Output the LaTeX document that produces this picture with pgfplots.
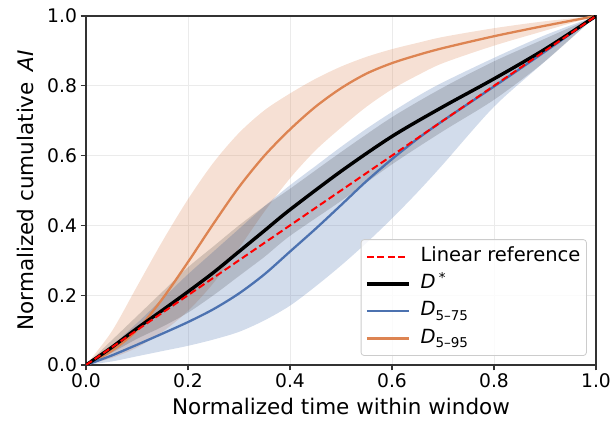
\documentclass[border=0pt]{standalone}
\usepackage{fontspec}
\setmainfont{DejaVu Sans}
\usepackage{pgfplots}
\usepackage{pgfplotstable}
\pgfplotsset{compat=1.18}
\usepgfplotslibrary{fillbetween}
\definecolor{cblue}{HTML}{4C72B0}
\definecolor{corange}{HTML}{DD8452}
\definecolor{gridc}{HTML}{EBEBEB}
\definecolor{spine}{HTML}{333333}
\definecolor{legc}{HTML}{CCCCCC}

\pgfplotstableread{
x c lo hi
0 0 0 0
0.05 0.04 0.02 0.095
0.1 0.10 0.05 0.225
0.15 0.19 0.095 0.355
0.2 0.295 0.155 0.475
0.25 0.405 0.235 0.58
0.3 0.51 0.335 0.665
0.35 0.60 0.44 0.73
0.4 0.675 0.535 0.778
0.45 0.74 0.615 0.82
0.5 0.793 0.68 0.855
0.55 0.835 0.74 0.883
0.6 0.865 0.79 0.905
0.65 0.888 0.83 0.923
0.7 0.908 0.865 0.94
0.8 0.942 0.915 0.965
0.9 0.972 0.958 0.985
1 1 1 1
}\orange

\pgfplotstableread{
x c lo hi
0 0 0 0
0.05 0.027 0.01 0.055
0.1 0.058 0.025 0.12
0.15 0.09 0.04 0.19
0.2 0.123 0.055 0.26
0.25 0.16 0.073 0.325
0.3 0.205 0.095 0.39
0.35 0.26 0.128 0.455
0.4 0.325 0.17 0.515
0.45 0.39 0.225 0.57
0.5 0.458 0.285 0.625
0.55 0.527 0.35 0.677
0.6 0.59 0.42 0.725
0.65 0.648 0.495 0.77
0.7 0.70 0.575 0.81
0.8 0.798 0.74 0.88
0.9 0.898 0.87 0.945
1 1 1 1
}\blue

\pgfplotstableread{
x c lo hi
0 0 0 0
0.05 0.05 0.035 0.07
0.1 0.105 0.075 0.14
0.15 0.157 0.11 0.21
0.2 0.21 0.15 0.28
0.25 0.265 0.2 0.34
0.3 0.325 0.255 0.40
0.35 0.385 0.31 0.455
0.4 0.445 0.37 0.505
0.5 0.555 0.47 0.61
0.6 0.655 0.575 0.71
0.7 0.74 0.67 0.795
0.8 0.82 0.76 0.87
0.9 0.905 0.87 0.935
1 1 1 1
}\dstar

\begin{document}
\begin{tikzpicture}
\begin{axis}[
  width=510pt, height=349pt, scale only axis,
  xmin=0, xmax=1, ymin=0, ymax=1,
  xtick={0,0.2,0.4,0.6,0.8,1}, ytick={0,0.2,0.4,0.6,0.8,1},
  xtick pos=lower, ytick pos=left,
  tick align=outside, major tick length=5.5pt,
  /pgf/number format/assume math mode=true,
  /pgf/number format/.cd, fixed, fixed zerofill, precision=1, /pgfplots/.cd,
  tick label style={font=\fontsize{18.7}{20}\selectfont},
  label style={font=\fontsize{21.5}{24}\selectfont},
  xlabel={Normalized time within window},
  ylabel={Normalized cumulative \,\textit{AI}},
  xlabel shift=3pt, ylabel shift=7pt,
  grid=major, major grid style={gridc, line width=0.9pt},
  axis line style={spine, line width=1.1pt},
  tick style={spine, line width=1.1pt},
  reverse legend,
  legend cell align=left,
  legend style={at={(rel axis cs:0.982,0.026)}, anchor=south east,
    draw=legc, line width=0.8pt, fill=white, fill opacity=0.8, text opacity=1,
    rounded corners=3pt, font=\fontsize{19.5}{21}\selectfont,
    nodes={inner sep=2pt, text height=13.5pt, text depth=4.5pt},
    row sep=5.3pt, column sep=8pt, inner xsep=4pt, inner ysep=6pt},
  legend image code/.code={\draw[#1] (0pt,0pt) -- (42pt,0pt);},
]
% bands
\addplot[name path=oH, draw=none, smooth, forget plot] table[x=x,y=hi] {\orange};
\addplot[name path=oL, draw=none, smooth, forget plot] table[x=x,y=lo] {\orange};
\addplot[corange, fill opacity=0.25, draw=none, forget plot] fill between[of=oH and oL];
\addplot[name path=bH, draw=none, smooth, forget plot] table[x=x,y=hi] {\blue};
\addplot[name path=bL, draw=none, smooth, forget plot] table[x=x,y=lo] {\blue};
\addplot[cblue, fill opacity=0.25, draw=none, forget plot] fill between[of=bH and bL];
\addplot[name path=dH, draw=none, smooth, forget plot] table[x=x,y=hi] {\dstar};
\addplot[name path=dL, draw=none, smooth, forget plot] table[x=x,y=lo] {\dstar};
\addplot[black, fill opacity=0.15, draw=none, forget plot] fill between[of=dH and dL];
% lines
\addplot[corange, line width=2.3pt, smooth] table[x=x,y=c] {\orange};
\addlegendentry{\textit{D}\raisebox{-0.45ex}{\fontsize{13.5}{13.5}\selectfont 5–95}}
\addplot[cblue, line width=2.3pt, smooth] table[x=x,y=c] {\blue};
\addlegendentry{\textit{D}\raisebox{-0.45ex}{\fontsize{13.5}{13.5}\selectfont 5–75}}
\addplot[black, line width=3.4pt, smooth] table[x=x,y=c] {\dstar};
\addlegendentry{\textit{D}\,\raisebox{0.6ex}{\fontsize{13.5}{13.5}\selectfont *}}
\addplot[red, line width=2pt, dash pattern=on 7pt off 3.5pt] coordinates {(0,0) (1,1)};
\addlegendentry{Linear reference}
\end{axis}
\pgfresetboundingbox
\path (current axis.south west) ++(-86pt,-60pt) rectangle ++(613pt,425pt);
\end{tikzpicture}
\end{document}
